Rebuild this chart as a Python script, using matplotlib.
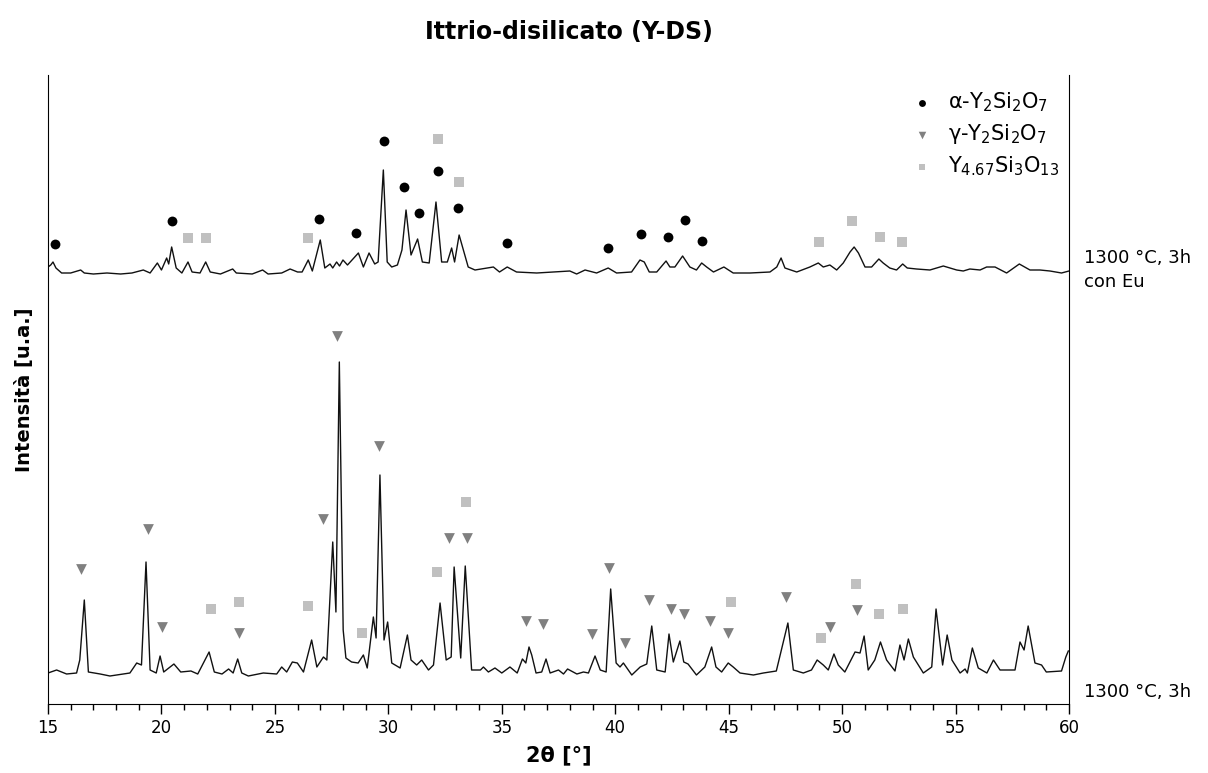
import numpy as np
import matplotlib
matplotlib.use("Agg")
import matplotlib.pyplot as plt
from matplotlib.ticker import MultipleLocator

# 2theta (deg) / intensity (a.u.)
top_x = [15.00, 15.12, 15.22, 15.35, 15.6, 16.0, 16.44, 16.6, 17.0, 17.6, 18.2, 18.7, 19.2, 19.5,
         19.82, 20.0, 20.23, 20.32, 20.45, 20.65, 20.9, 21.17, 21.35, 21.7, 21.95, 22.15, 22.6,
         23.14, 23.3, 24.0, 24.46, 24.7, 25.3, 25.67, 26.0, 26.2, 26.47, 26.65, 27.0, 27.2, 27.43,
         27.55, 27.72, 27.85, 28.0, 28.2, 28.68, 28.9, 29.15, 29.4, 29.55, 29.78, 29.95, 30.15,
         30.4, 30.6, 30.78, 31.0, 31.29, 31.5, 31.8, 32.1, 32.35, 32.6, 32.79, 32.92, 33.12, 33.52,
         33.82, 34.63, 34.9, 35.24, 35.65, 36.54, 37.28, 38.0, 38.3, 38.67, 39.18, 39.69, 40.06,
         40.72, 41.09, 41.28, 41.5, 41.83, 42.24, 42.41, 42.63, 42.97, 43.29, 43.58, 43.81, 44.03,
         44.33, 44.79, 45.2, 45.94, 46.82, 47.12, 47.31, 47.48, 48.0, 48.58, 48.95, 49.17, 49.46,
         49.76, 50.05, 50.35, 50.53, 50.72, 51.01, 51.3, 51.62, 51.81, 52.1, 52.4, 52.67, 52.87,
         53.28, 53.87, 54.46, 54.75, 55.05, 55.34, 55.63, 56.08, 56.37, 56.74, 57.25, 57.81, 58.28,
         58.72, 59.16, 59.67, 60.0]
top_y = [437, 439, 442, 436, 431, 431, 434, 431, 430, 431, 430, 431, 434, 431,
         441, 434, 446, 440, 457, 436, 431, 442, 432, 431, 442, 432, 430,
         435, 431, 430, 434, 430, 431, 435, 432, 432, 444, 433, 464, 436, 440,
         436, 442, 438, 444, 439, 451, 437, 451, 440, 442, 534, 442, 437,
         439, 454, 494, 449, 465, 442, 441, 502, 442, 442, 456, 442, 469, 437,
         434, 437, 432, 437, 432, 431, 432, 433, 430, 434, 431, 436, 431,
         432, 444, 442, 432, 432, 443, 437, 437, 448, 437, 434, 441, 437,
         432, 437, 431, 431, 432, 437, 446, 436, 432, 437, 441, 437, 439,
         434, 441, 452, 457, 451, 437, 437, 445, 441, 436, 434, 440, 436,
         435, 434, 438, 436, 434, 433, 435, 434, 437, 437, 431, 440, 434,
         434, 433, 431, 433]

bot_x = [15.0, 15.38, 15.82, 16.26, 16.4, 16.6, 16.78, 17.3, 17.73, 18.61, 18.91, 19.12, 19.32,
         19.5, 19.77, 19.94, 20.1, 20.55, 20.85, 21.3, 21.6, 22.1, 22.33, 22.67, 22.96, 23.16,
         23.36, 23.54, 23.83, 24.49, 25.08, 25.3, 25.52, 25.77, 25.99, 26.26, 26.62, 26.85, 27.14,
         27.29, 27.55, 27.69, 27.84, 28.01, 28.13, 28.38, 28.67, 28.9, 29.07, 29.34, 29.46, 29.63,
         29.81, 29.97, 30.15, 30.52, 30.84, 31.0, 31.25, 31.47, 31.77, 31.99, 32.28, 32.55, 32.77,
         32.9, 33.19, 33.39, 33.67, 34.06, 34.19, 34.41, 34.7, 35.0, 35.36, 35.68, 35.91, 36.06,
         36.2, 36.32, 36.51, 36.76, 36.95, 37.13, 37.5, 37.72, 37.9, 38.31, 38.6, 38.82, 39.11,
         39.34, 39.6, 39.8, 40.04, 40.21, 40.36, 40.73, 41.1, 41.39, 41.61, 41.83, 42.2, 42.37,
         42.56, 42.85, 43.02, 43.21, 43.58, 43.95, 44.25, 44.44, 44.69, 44.98, 45.2, 45.5, 46.09,
         46.53, 47.1, 47.61, 47.85, 48.29, 48.65, 48.9, 49.17, 49.39, 49.64, 49.83, 50.12, 50.57,
         50.79, 50.97, 51.15, 51.44, 51.69, 51.96, 52.33, 52.55, 52.73, 52.92, 53.14, 53.58, 53.95,
         54.14, 54.43, 54.63, 54.84, 55.2, 55.42, 55.52, 55.74, 56.0, 56.38, 56.67, 56.96, 57.25,
         57.62, 57.84, 58.02, 58.2, 58.5, 58.79, 59.0, 59.67, 59.86, 59.97]
bot_y = [31, 34, 30, 31, 44, 104, 32, 30, 28, 31, 41, 39, 142,
         34, 31, 48, 32, 40, 32, 33, 30, 52, 32, 30, 35, 31,
         45, 31, 28, 31, 30, 37, 32, 42, 41, 32, 64, 37, 47,
         44, 162, 92, 342, 74, 46, 42, 41, 49, 36, 87, 66, 229,
         64, 82, 41, 36, 69, 44, 39, 44, 34, 39, 101, 44, 47,
         137, 46, 138, 34, 34, 37, 32, 36, 31, 37, 31, 45, 41,
         57, 49, 31, 32, 45, 31, 34, 30, 35, 30, 32, 31, 48,
         34, 32, 115, 41, 37, 41, 29, 37, 40, 78, 34, 32, 70,
         42, 63, 42, 40, 29, 37, 57, 37, 32, 41, 37, 31, 29,
         31, 33, 81, 34, 31, 34, 44, 39, 34, 50, 39, 32, 52,
         51, 68, 34, 44, 62, 44, 33, 59, 44, 65, 47, 31, 37,
         95, 39, 69, 44, 31, 35, 31, 56, 36, 31, 44, 34, 34,
         34, 62, 54, 78, 41, 39, 32, 33, 47, 53]

# phase markers
alpha_x = [15.31, 20.45, 26.96, 28.57, 29.82, 30.69, 31.36, 32.18, 33.08, 35.24, 39.67,
           41.12, 42.34, 43.09, 43.81]
alpha_y = [460, 483, 485, 471, 563, 517, 491, 533, 496, 461, 456, 470, 467, 484, 463]

gamma_x = [16.44, 19.42, 20.04, 23.40, 27.12, 27.74, 29.60, 32.68, 33.48, 36.05, 36.80,
           38.98, 39.73, 40.44, 41.49, 42.44, 43.04, 44.18, 44.98, 47.51, 49.47, 50.67]
gamma_y = [135, 175, 77, 71, 185, 368, 258, 166, 166, 83, 80, 70, 136, 61, 104, 95, 90,
           83, 71, 107, 77, 94]

y467_x = [21.16, 21.96, 26.45, 32.20, 33.11, 48.98, 50.45, 51.67, 52.65,
          22.17, 23.42, 26.45, 28.83, 32.13, 33.41, 45.10, 49.07, 50.60, 51.64, 52.70]
y467_y = [466, 466, 466, 565, 522, 462, 483, 467, 462,
          95, 102, 98, 71, 132, 202, 102, 66, 120, 90, 95]

phase_labels = [r'α-Y$_2$Si$_2$O$_7$', r'γ-Y$_2$Si$_2$O$_7$', r'Y$_{4.67}$Si$_3$O$_{13}$']
sample_labels = ['1300 °C, 3h\ncon Eu', '1300 °C, 3h']

plt.rcParams['mathtext.default'] = 'regular'
plt.rcParams['font.family'] = ['DejaVu Sans']

fig = plt.figure(figsize=(12.08, 7.73), dpi=100)
ax = fig.add_axes([48 / 1208, 69 / 773, 1021 / 1208, 629 / 773])

ax.plot(top_x, top_y, color='#111111', lw=1.0)
ax.plot(bot_x, bot_y, color='#111111', lw=1.0)

ax.scatter(alpha_x, alpha_y, marker='o', s=50, color='black', lw=0, label=phase_labels[0])
ax.scatter(gamma_x, gamma_y, marker='v', s=60, color='#808080', lw=0, label=phase_labels[1])
ax.scatter(y467_x, y467_y, marker='s', s=45, color='#c0c0c0', lw=0, label=phase_labels[2])

ax.set_xlim(15, 60)
ax.set_ylim(0, 629)
ax.set_yticks([])
ax.xaxis.set_major_locator(MultipleLocator(5))
ax.xaxis.set_minor_locator(MultipleLocator(1))
ax.tick_params(axis='x', which='major', direction='out', length=7, width=1, labelsize=12)
ax.tick_params(axis='x', which='minor', direction='out', length=4, width=1)
ax.spines['top'].set_visible(False)

ax.set_xlabel('2θ [°]', fontsize=15, fontweight='bold', labelpad=6)
ax.set_ylabel('Intensità [u.a.]', fontsize=14, fontweight='bold', labelpad=10)
fig.text(569 / 1208, 1 - 32 / 773, 'Ittrio-disilicato (Y-DS)', fontsize=17,
         fontweight='bold', ha='center', va='center')

ax.text(60.65, 455, sample_labels[0], fontsize=13, va='top', ha='left',
        linespacing=1.45, clip_on=False)
ax.text(60.65, 12, sample_labels[1], fontsize=13, va='center', ha='left', clip_on=False)

ax.legend(loc='upper right', bbox_to_anchor=(1.003, 0.995), frameon=False, fontsize=15,
          markerscale=0.7, handletextpad=0.25, labelspacing=0.38, borderaxespad=0.2)

fig.savefig('out.png', dpi=100)
